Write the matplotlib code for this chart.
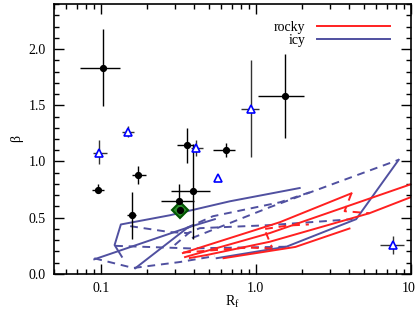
import matplotlib
matplotlib.use('Agg')
import matplotlib.pyplot as plt
from matplotlib.ticker import FixedLocator, FixedFormatter, MultipleLocator

plt.rcParams['font.family'] = ['Liberation Serif', 'DejaVu Serif']
plt.rcParams['mathtext.fontset'] = 'custom'
plt.rcParams['mathtext.rm'] = 'Liberation Serif'

ROCKY = '#ff2020'
ICY = '#5050a0'

# measured objects (black dots)
obj_x = [0.104, 0.096, 0.175, 0.16, 0.321, 0.325, 0.392, 0.36, 0.64, 1.54]
obj_y = [1.83, 0.75, 0.88, 0.52, 0.646, 0.572, 0.737, 1.148, 1.10, 1.58]
obj_xlo = [0.030, 0.008, 0.015, 0.012, 0.076, 0.025, 0.109, 0.048, 0.11, 0.50]
obj_xhi = [0.030, 0.009, 0.020, 0.009, 0.079, 0.025, 0.114, 0.040, 0.10, 0.51]
obj_ylo = [0.34, 0.03, 0.08, 0.21, 0.08, 0.05, 0.43, 0.16, 0.06, 0.37]
obj_yhi = [0.35, 0.05, 0.08, 0.21, 0.15, 0.05, 0.42, 0.15, 0.06, 0.38]

# second sample (blue open triangles)
tri_x = [0.098, 0.15, 0.41, 0.93, 0.567, 7.64]
tri_y = [1.074, 1.265, 1.12, 1.47, 0.853, 0.254]
tri_xlo = [0.009, 0.013, 0.025, 0.13, 0.015, 1.34]
tri_xhi = [0.012, 0.014, 0.05, 0.12, 0.018, 1.36]
tri_ylo = [0.10, 0.05, 0.07, 0.43, 0.025, 0.074]
tri_yhi = [0.12, 0.055, 0.07, 0.43, 0.025, 0.086]

# highlighted object
special_x = [0.325]
special_y = [0.572]

# model tracks: (x list, y list)
icy_solid = [
    ([0.137, 0.123, 0.135, 0.280, 0.681, 1.92], [0.153, 0.257, 0.440, 0.522, 0.646, 0.764]),
    ([0.091, 0.376, 0.545], [0.130, 0.419, 0.487]),
    ([0.167, 0.358, 0.39], [0.050, 0.404, 0.43]),
    ([0.56, 1.575, 4.44, 8.35], [0.14, 0.242, 0.487, 1.015]),
]
icy_dashed = [
    ([0.155, 0.280, 0.365, 0.436, 1.23, 4.21], [0.425, 0.372, 0.363, 0.407, 0.434, 0.487]),
    ([0.124, 0.376, 1.58], [0.250, 0.227, 0.242]),
    ([0.091, 0.1625, 0.3245, 0.545], [0.139, 0.053, 0.106, 0.159]),
    ([0.355, 0.529, 1.43, 2.23], [0.407, 0.513, 0.637, 0.726]),
    ([0.388, 1.23, 8.35], [0.319, 0.593, 1.015]),
    ([0.30, 0.376], [0.257, 0.372]),
]
rocky_solid = [
    ([0.339, 1.43, 4.14], [0.186, 0.460, 0.717]),
    ([0.35, 1.23, 9.93], [0.150, 0.363, 0.796]),
    ([0.376, 0.482, 1.23, 5.41, 9.93], [0.142, 0.168, 0.286, 0.540, 0.681]),
    ([0.62, 1.80, 4.02], [0.14, 0.24, 0.404]),
]
rocky_dashed = [
    ([4.14, 3.74, 5.41], [0.717, 0.558, 0.540]),
    ([0.34, 0.9, 1.3], [0.19, 0.235, 0.225]),
    ([1.15, 1.6, 2.2], [0.40, 0.43, 0.44]),
    ([1.16, 1.27], [0.37, 0.24]),
]

fig = plt.figure(figsize=(4.15, 3.12), dpi=100)
ax = fig.add_axes([0.130, 0.122, 0.860, 0.865])

for xs, ys in icy_solid:
    ax.plot(xs, ys, color=ICY, lw=1.4)
for xs, ys in icy_dashed:
    ax.plot(xs, ys, color=ICY, lw=1.4, ls=(0, (4, 3)))
for xs, ys in rocky_solid:
    ax.plot(xs, ys, color=ROCKY, lw=1.4)
for xs, ys in rocky_dashed:
    ax.plot(xs, ys, color=ROCKY, lw=1.4, ls=(0, (4, 3)))

ax.plot([], [], color=ROCKY, lw=1.4, label='rocky')
ax.plot([], [], color=ICY, lw=1.4, label='icy')

ax.errorbar(tri_x, tri_y, xerr=[tri_xlo, tri_xhi], yerr=[tri_ylo, tri_yhi],
            fmt='none', ecolor='#333333', elinewidth=1.0, zorder=4)
ax.errorbar(obj_x, obj_y, xerr=[obj_xlo, obj_xhi], yerr=[obj_ylo, obj_yhi],
            fmt='none', ecolor='black', elinewidth=1.0, zorder=4)
ax.plot(special_x, special_y, 'D', ms=8, mfc='#2f8f2f', mec='#005500', mew=1.5, zorder=5)
ax.plot(obj_x, obj_y, 'o', color='black', ms=4.2, zorder=6)
ax.plot(tri_x, tri_y, '^', ms=6, mfc='white', mec='blue', mew=1.2, zorder=6)

ax.set_xscale('log')
ax.set_xlim(0.05, 10)
ax.set_ylim(0, 2.4)

ax.xaxis.set_major_locator(FixedLocator([0.1, 1.0, 10.0]))
ax.xaxis.set_major_formatter(FixedFormatter(['0.1', '1.0', '10.']))
ax.yaxis.set_major_locator(MultipleLocator(0.5))
ax.yaxis.set_minor_locator(MultipleLocator(0.1))
ax.yaxis.set_major_formatter(plt.FuncFormatter(lambda v, p: '%.1f' % v))

ax.tick_params(which='both', direction='in', top=True, right=True, labelsize=10, width=1, color='black')
ax.tick_params(which='major', length=7, pad=6)
ax.tick_params(which='minor', length=3.5)
for s in ax.spines.values():
    s.set_linewidth(1.2)

ax.set_xlabel(r'R$_\mathrm{f}$', fontsize=10, labelpad=-1)
ax.set_ylabel('β', fontsize=10, labelpad=4)

ax.legend(loc='upper right', frameon=False, markerfirst=False, handlelength=5.3,
          fontsize=10, labelspacing=0.0, bbox_to_anchor=(0.97, 0.975), borderpad=0.2)

fig.savefig('out.png', dpi=100)
